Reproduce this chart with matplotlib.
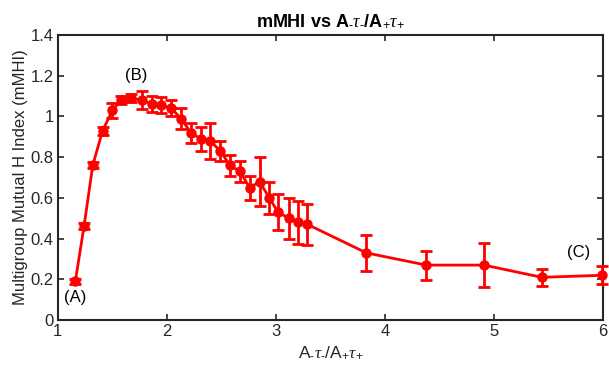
import numpy as np
import matplotlib
matplotlib.use('Agg')
import matplotlib.pyplot as plt

plt.rcParams['font.family'] = ['Liberation Sans', 'DejaVu Sans']
plt.rcParams['mathtext.fontset'] = 'custom'
plt.rcParams['mathtext.rm'] = 'Liberation Sans'
plt.rcParams['mathtext.it'] = 'Liberation Serif:italic'

# Datos
razon = [1.16, 1.24, 1.32, 1.41, 1.50, 1.58, 1.67, 1.77, 1.86, 1.945, 2.04, 2.13,
         2.22, 2.31, 2.40, 2.49, 2.58, 2.67, 2.76, 2.85, 2.94, 3.02, 3.12, 3.20,
         3.29, 3.83, 4.38, 4.91, 5.44, 5.99]
mmhi = [0.19, 0.46, 0.76, 0.93, 1.03, 1.08, 1.09, 1.08, 1.06, 1.055, 1.04, 0.99,
        0.92, 0.89, 0.88, 0.83, 0.76, 0.73, 0.65, 0.68, 0.60, 0.53, 0.50, 0.48,
        0.47, 0.33, 0.27, 0.27, 0.21, 0.22]
error = [0.012, 0.015, 0.015, 0.02, 0.035, 0.02, 0.02, 0.045, 0.04, 0.04, 0.04, 0.05,
         0.05, 0.06, 0.09, 0.05, 0.05, 0.05, 0.06, 0.12, 0.077, 0.087, 0.10, 0.105,
         0.10, 0.09, 0.071, 0.107, 0.042, 0.045]

etiquetas = ['(A)', '(B)', '(C)']
pos_etiquetas = [(1.16, 0.11), (1.72, 1.20), (5.78, 0.33)]

fig = plt.figure(figsize=(6.09, 3.77), dpi=100)
ax = fig.add_axes([0.095, 0.151, 0.895, 0.756])

ax.errorbar(razon, mmhi, yerr=error, color='#ff0000', lw=2, marker='o', ms=6.5,
            capsize=4, capthick=2, elinewidth=2, clip_on=False, zorder=3)

for txt, (xx, yy) in zip(etiquetas, pos_etiquetas):
    ax.text(xx, yy, txt, fontsize=12, ha='center', va='center')

ax.set_xlim(1, 6)
ax.set_ylim(0, 1.4)
ax.set_xticks([1, 2, 3, 4, 5, 6])
ax.set_yticks([0, 0.2, 0.4, 0.6, 0.8, 1, 1.2, 1.4])
ax.set_yticklabels(['0', '0.2', '0.4', '0.6', '0.8', '1', '1.2', '1.4'])
ax.tick_params(direction='in', top=True, right=True, labelsize=12, length=4,
               width=1.2, colors='#262626', pad=3)
for s in ax.spines.values():
    s.set_linewidth(1.5)
    s.set_color('#262626')

etiqueta_x = r'A$_{\text{-}}\tau_{\text{-}}$/A$_{+}\tau_{+}$'
ax.set_title('mMHI vs ' + etiqueta_x, fontsize=13, fontweight='bold', pad=6)
ax.set_xlabel(etiqueta_x, fontsize=12.5, color='#262626')
ax.set_ylabel('Multigroup Mutual H Index (mMHI)', fontsize=12, color='#262626',
              labelpad=2)

fig.savefig('out.png', dpi=100)
